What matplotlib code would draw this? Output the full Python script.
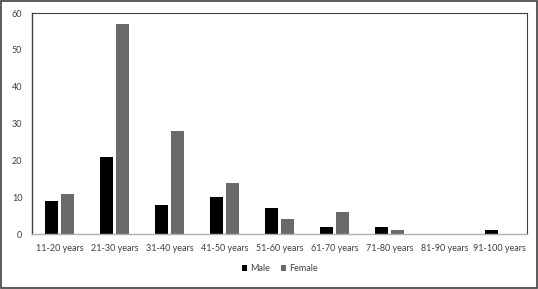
import numpy as np
import matplotlib.pyplot as plt
from matplotlib.patches import Rectangle

# Age groups and counts
age_groups = ['11-20 years', '21-30 years', '31-40 years', '41-50 years', '51-60 years',
              '61-70 years', '71-80 years', '81-90 years', '91-100 years']
male = [9, 21, 8, 10, 7, 2, 2, 0, 1]
female = [11, 57, 28, 14, 4, 6, 1, 0, 0]

plt.rcParams['font.family'] = ['Lato', 'DejaVu Sans']

fig = plt.figure(figsize=(5.38, 2.89), dpi=100)
ax = fig.add_axes([0.0595, 0.19, 0.92, 0.765])

x = np.arange(len(age_groups))
width = 0.22
ax.bar(x - 0.145, male, width, color='#000000', label='Male')
ax.bar(x + 0.145, female, width, color='#6a6a6a', label='Female')

ax.set_xlim(-0.5, len(age_groups) - 0.5)
ax.set_ylim(0, 60)
ax.set_yticks(range(0, 61, 10))
ax.set_xticks(x)
ax.set_xticklabels(age_groups)
ax.tick_params(axis='both', length=0, labelsize=6.5, colors='#404040')
ax.tick_params(axis='x', pad=7)
ax.tick_params(axis='y', pad=7)

for side in ['top', 'right']:
    ax.spines[side].set_color('#404040')
    ax.spines[side].set_linewidth(0.8)
ax.spines['left'].set_color('#404040')
ax.spines['left'].set_linewidth(1.0)
ax.spines['bottom'].set_color('#b0b0b0')
ax.spines['bottom'].set_linewidth(1.0)

ax.legend(loc='upper center', bbox_to_anchor=(0.5, -0.1), ncol=2, frameon=False,
          fontsize=6.5, handlelength=0.6, handleheight=0.6, handletextpad=0.3,
          columnspacing=1.2, labelcolor='#404040')

# Outer border around the whole figure
fig.patches.append(Rectangle((0.002, 0.003), 0.996, 0.994, transform=fig.transFigure,
                             fill=False, edgecolor='#404040', linewidth=1.2))

fig.savefig('out.png', dpi=100, facecolor='white')
